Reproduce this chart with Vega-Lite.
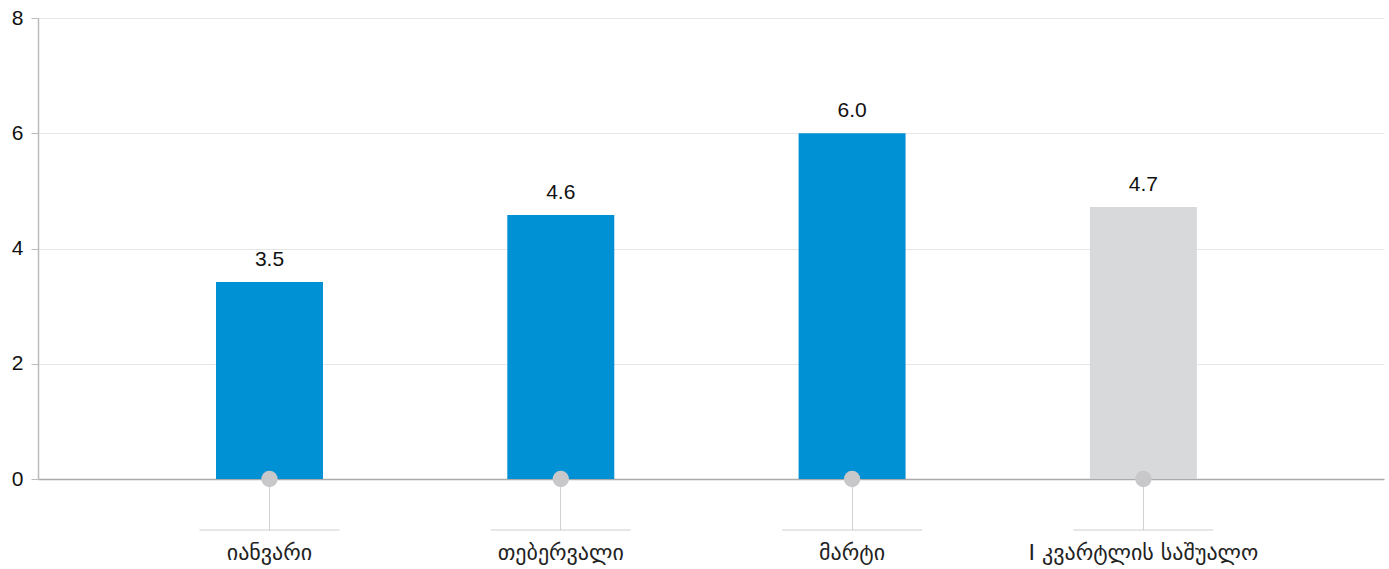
{
  "$schema": "https://vega.github.io/schema/vega-lite/v6.json",
  "autosize": {"type": "none"},
  "padding": {"left": 38, "top": 18, "right": 5, "bottom": 90},
  "width": 1346,
  "height": 461,
  "background": "white",
  "config": {
    "view": {"stroke": null},
    "font": "Liberation Sans"
  },
  "data": {
    "values": [
      {"month": "იანვარი", "value": 3.42, "label": "3.5", "kind": "month"},
      {"month": "თებერვალი", "value": 4.58, "label": "4.6", "kind": "month"},
      {"month": "მარტი", "value": 6.0, "label": "6.0", "kind": "month"},
      {"month": "I კვარტლის საშუალო", "value": 4.72, "label": "4.7", "kind": "avg"}
    ]
  },
  "encoding": {
    "x": {
      "field": "month",
      "type": "nominal",
      "sort": null,
      "scale": {"paddingInner": 0.6327, "paddingOuter": 0.6267, "align": 0.4875},
      "axis": {
        "title": null,
        "labelAngle": 0,
        "labelFont": "DejaVu Sans",
        "labelFontSize": 22,
        "labelLimit": 0,
        "labelColor": "#222222",
        "labelPadding": 12,
        "tickSize": 51,
        "tickColor": "#d2d2d2",
        "tickWidth": 1,
        "domainColor": "#aaaaaa",
        "domainWidth": 1.5,
        "grid": false
      }
    }
  },
  "layer": [
    {
      "mark": {"type": "bar"},
      "encoding": {
        "y": {
          "field": "value",
          "type": "quantitative",
          "scale": {"domain": [0, 8], "nice": false},
          "axis": {
            "title": null,
            "values": [0, 2, 4, 6, 8],
            "format": "d",
            "labelFontSize": 21,
            "labelColor": "#111111",
            "labelPadding": 8,
            "tickSize": 7,
            "tickColor": "#bbbbbb",
            "domainColor": "#bbbbbb",
            "domainWidth": 1.5,
            "gridColor": "#e6e6e6",
            "gridWidth": 1
          }
        },
        "color": {
          "field": "kind",
          "type": "nominal",
          "scale": {"domain": ["month", "avg"], "range": ["#0091d5", "#d8d9db"]},
          "legend": null
        }
      }
    },
    {
      "mark": {"type": "text", "dy": -22, "fontSize": 21, "color": "#111111", "font": "Liberation Sans"},
      "encoding": {
        "y": {"field": "value", "type": "quantitative"},
        "text": {"field": "label"}
      }
    },
    {
      "mark": {"type": "tick", "orient": "horizontal", "size": 140, "thickness": 1.5, "color": "#d2d2d2", "yOffset": 51},
      "encoding": {
        "y": {"datum": 0, "type": "quantitative"}
      }
    },
    {
      "mark": {"type": "point", "filled": true, "size": 270, "opacity": 1, "color": "#c8c8ca"},
      "encoding": {
        "y": {"datum": 0, "type": "quantitative"}
      }
    }
  ]
}
